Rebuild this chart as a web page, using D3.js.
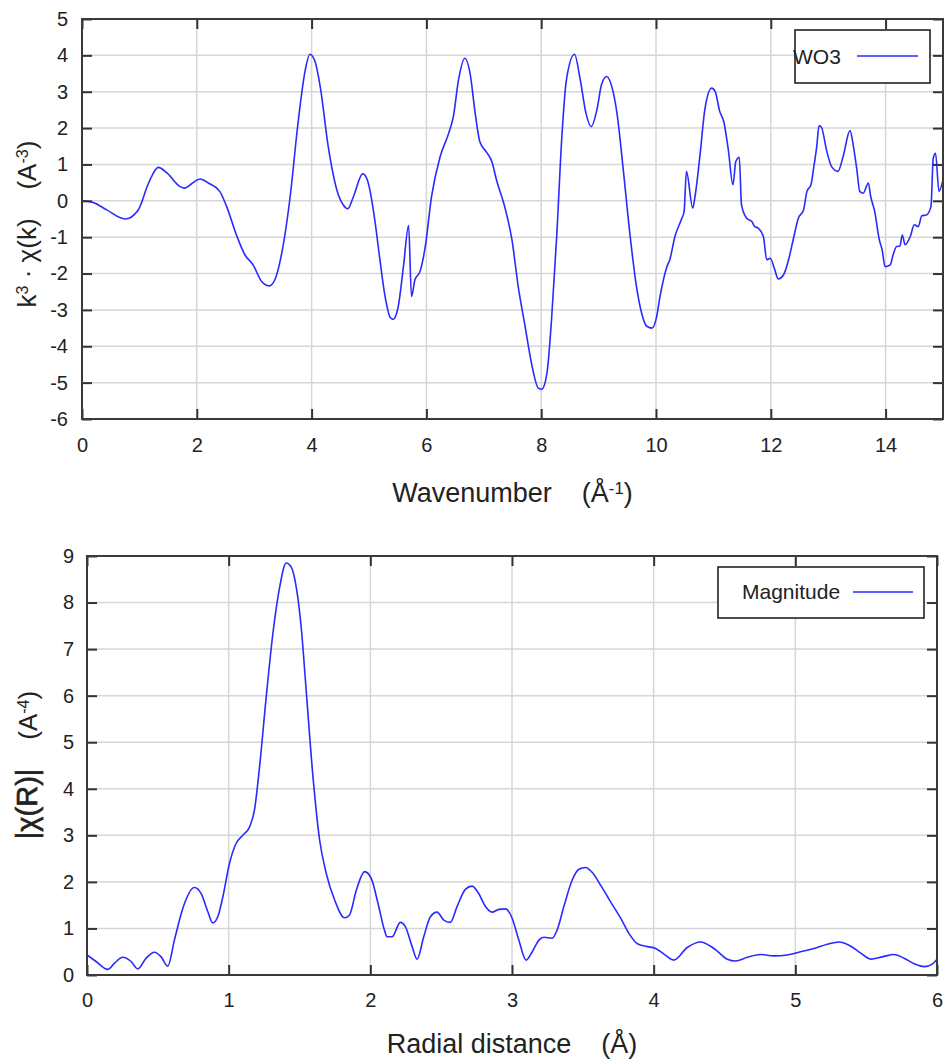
<!DOCTYPE html>
<html>
<head>
<meta charset="utf-8">
<script src="https://cdn.jsdelivr.net/npm/d3@7/dist/d3.min.js"></script>
<style>
  html, body { margin: 0; padding: 0; background: #fff; }
  svg { display: block; font-family: "Liberation Sans", Arial, sans-serif; }
  text { white-space: pre; }
</style>
</head>
<body>
<svg id="chart" width="949" height="1061"></svg>
<script>
// ---------- Data: top panel (k-space) ----------
const kValues = [0, 0.2, 0.43, 0.75, 0.98, 1.16, 1.33, 1.47, 1.71, 1.79, 1.91, 2.06, 2.2, 2.4, 2.52, 2.7, 2.84, 2.98, 3.13, 3.26, 3.36, 3.48, 3.62, 3.77, 3.89, 3.97, 4.06, 4.15, 4.29, 4.44, 4.55, 4.63, 4.73, 4.89, 4.97, 5.02, 5.10, 5.19, 5.28, 5.37, 5.42, 5.51, 5.6, 5.69, 5.74, 5.8, 5.89, 5.98, 6.09, 6.24, 6.38, 6.47, 6.56, 6.67, 6.76, 6.85, 6.93, 7.05, 7.14, 7.22, 7.37, 7.49, 7.6, 7.72, 7.83, 7.95, 8.01, 8.1, 8.18, 8.27, 8.36, 8.44, 8.58, 8.68, 8.78, 8.87, 8.97, 9.05, 9.14, 9.23, 9.32, 9.43, 9.55, 9.66, 9.75, 9.84, 9.93, 10.01, 10.07, 10.19, 10.24, 10.33, 10.44, 10.49, 10.53, 10.64, 10.68, 10.77, 10.85, 10.97, 11.03, 11.11, 11.18, 11.26, 11.34, 11.39, 11.45, 11.49, 11.58, 11.67, 11.72, 11.78, 11.87, 11.93, 11.99, 12.07, 12.13, 12.22, 12.31, 12.39, 12.48, 12.57, 12.63, 12.7, 12.75, 12.8, 12.84, 12.88, 12.97, 13.06, 13.17, 13.26, 13.38, 13.44, 13.5, 13.55, 13.61, 13.7, 13.74, 13.81, 13.89, 13.94, 13.99, 14.08, 14.13, 14.19, 14.25, 14.29, 14.34, 14.43, 14.5, 14.57, 14.63, 14.71, 14.79, 14.83, 14.87, 14.93, 15.0];
const chiValues = [0, -0.05, -0.25, -0.5, -0.25, 0.49, 0.92, 0.78, 0.39, 0.35, 0.47, 0.6, 0.49, 0.26, -0.16, -0.98, -1.49, -1.76, -2.22, -2.34, -2.17, -1.44, 0.03, 2.23, 3.6, 4.03, 3.83, 3.14, 1.49, 0.3, -0.11, -0.22, 0.12, 0.74, 0.58, 0.26, -0.52, -1.62, -2.63, -3.21, -3.26, -2.9, -1.81, -0.68, -2.63, -2.17, -1.94, -1.26, 0.12, 1.22, 1.82, 2.32, 3.33, 3.92, 3.51, 2.41, 1.63, 1.33, 1.08, 0.58, -0.2, -1.07, -2.36, -3.46, -4.46, -5.15, -5.18, -4.74, -3.27, -0.98, 1.77, 3.33, 4.03, 3.33, 2.41, 2.04, 2.5, 3.19, 3.42, 3.14, 2.41, 0.85, -0.98, -2.36, -3.09, -3.45, -3.5, -3.2, -2.63, -1.81, -1.62, -0.98, -0.52, -0.29, 0.81, -0.2, 0.12, 1.31, 2.5, 3.1, 3.01, 2.46, 2.18, 1.4, 0.44, 1.08, 1.2, -0.11, -0.48, -0.57, -0.71, -0.75, -0.98, -1.62, -1.58, -1.9, -2.15, -2.04, -1.62, -1.07, -0.48, -0.25, 0.26, 0.44, 0.94, 1.49, 2.06, 2.03, 1.4, 0.94, 0.81, 1.22, 1.93, 1.49, 0.85, 0.26, 0.21, 0.49, 0.12, -0.29, -1.07, -1.35, -1.81, -1.76, -1.49, -1.26, -1.24, -0.94, -1.21, -0.98, -0.66, -0.71, -0.41, -0.39, -0.16, 1.17, 1.31, 0.26, 0.58];
const kTicks = [0, 2, 4, 6, 8, 10, 12, 14];
const chiTicks = [-6, -5, -4, -3, -2, -1, 0, 1, 2, 3, 4, 5];

// ---------- Data: bottom panel (R-space) ----------
const rValues = [0, 0.064, 0.146, 0.193, 0.252, 0.311, 0.358, 0.417, 0.476, 0.523, 0.57, 0.617, 0.676, 0.758, 0.806, 0.853, 0.888, 0.923, 0.959, 1.006, 1.053, 1.1, 1.147, 1.182, 1.218, 1.265, 1.312, 1.36, 1.406, 1.442, 1.477, 1.512, 1.547, 1.595, 1.642, 1.689, 1.748, 1.818, 1.853, 1.901, 1.96, 2.007, 2.054, 2.101, 2.118, 2.153, 2.212, 2.247, 2.295, 2.33, 2.377, 2.424, 2.471, 2.518, 2.565, 2.612, 2.671, 2.718, 2.765, 2.813, 2.86, 2.907, 2.954, 3.001, 3.048, 3.1, 3.143, 3.19, 3.225, 3.283, 3.319, 3.366, 3.425, 3.472, 3.519, 3.567, 3.625, 3.696, 3.767, 3.826, 3.885, 3.955, 4.014, 4.073, 4.143, 4.237, 4.331, 4.426, 4.52, 4.578, 4.661, 4.755, 4.849, 4.943, 5.037, 5.131, 5.226, 5.308, 5.379, 5.462, 5.532, 5.615, 5.697, 5.768, 5.839, 5.91, 5.969, 6.0];
const magValues = [0.43, 0.29, 0.12, 0.25, 0.38, 0.29, 0.13, 0.36, 0.49, 0.39, 0.19, 0.75, 1.43, 1.88, 1.75, 1.36, 1.12, 1.25, 1.68, 2.4, 2.83, 3.0, 3.18, 3.54, 4.47, 5.97, 7.33, 8.33, 8.85, 8.76, 8.33, 7.47, 6.12, 4.26, 2.9, 2.18, 1.61, 1.23, 1.29, 1.82, 2.22, 2.07, 1.54, 0.95, 0.82, 0.82, 1.13, 1.04, 0.61, 0.34, 0.82, 1.25, 1.35, 1.18, 1.13, 1.47, 1.84, 1.91, 1.75, 1.47, 1.35, 1.41, 1.42, 1.22, 0.75, 0.32, 0.5, 0.75, 0.81, 0.79, 0.97, 1.47, 2.04, 2.27, 2.31, 2.2, 1.93, 1.57, 1.22, 0.89, 0.67, 0.61, 0.57, 0.45, 0.32, 0.59, 0.71, 0.57, 0.34, 0.3, 0.38, 0.44, 0.41, 0.43, 0.5, 0.57, 0.66, 0.71, 0.64, 0.47, 0.34, 0.39, 0.44, 0.36, 0.24, 0.18, 0.24, 0.34];
const rTicks = [0, 1, 2, 3, 4, 5, 6];
const magTicks = [0, 1, 2, 3, 4, 5, 6, 7, 8, 9];

const svg = d3.select("#chart");

function drawPanel(cfg) {
  const { left, right, top, bottom } = cfg;
  const x = d3.scaleLinear().domain(cfg.xDomain).range([left, right]);
  const y = d3.scaleLinear().domain(cfg.yDomain).range([bottom, top]);
  const g = svg.append("g");

  // grid
  g.append("g").selectAll("line").data(cfg.xTicks.filter(t => t > cfg.xDomain[0] && t < cfg.xDomain[1]))
    .join("line")
    .attr("x1", d => x(d)).attr("x2", d => x(d))
    .attr("y1", top).attr("y2", bottom)
    .attr("stroke", "#d6d6d6").attr("stroke-width", 1.5);
  g.append("g").selectAll("line").data(cfg.yTicks.filter(t => t > cfg.yDomain[0] && t < cfg.yDomain[1]))
    .join("line")
    .attr("x1", left).attr("x2", right)
    .attr("y1", d => y(d)).attr("y2", d => y(d))
    .attr("stroke", "#d6d6d6").attr("stroke-width", 1.5);

  // curve
  const clipId = "clip" + cfg.id;
  svg.append("clipPath").attr("id", clipId).append("rect")
    .attr("x", left).attr("y", top).attr("width", right - left).attr("height", bottom - top);
  const pts = cfg.xs.map((v, i) => [v, cfg.ys[i]]);
  g.append("path")
    .attr("clip-path", `url(#${clipId})`)
    .attr("d", d3.line().x(d => x(d[0])).y(d => y(d[1])).curve(d3.curveMonotoneX)(pts))
    .attr("fill", "none").attr("stroke", "#2a2aff").attr("stroke-width", 1.6);

  // axes (inward ticks on all four sides)
  const tickColor = "#333";
  const fmt = d => String(d);
  const ax = [
    g.append("g").attr("transform", `translate(0,${bottom})`)
      .call(d3.axisBottom(x).tickValues(cfg.xTicks).tickSize(-10).tickPadding(cfg.xPad).tickFormat(fmt)),
    g.append("g").attr("transform", `translate(${left},0)`)
      .call(d3.axisLeft(y).tickValues(cfg.yTicks).tickSize(-10).tickPadding(cfg.yPad).tickFormat(fmt)),
    g.append("g").attr("transform", `translate(0,${top})`)
      .call(d3.axisTop(x).tickValues(cfg.xTicks).tickSize(-10).tickFormat("")),
    g.append("g").attr("transform", `translate(${right},0)`)
      .call(d3.axisRight(y).tickValues(cfg.yTicks).tickSize(-10).tickFormat(""))
  ];
  ax.forEach(a => {
    a.select(".domain").remove();
    a.selectAll(".tick line").attr("stroke", tickColor).attr("stroke-width", 2);
    a.selectAll(".tick text").attr("fill", "#222").style("font-size", "20px")
      .style("font-family", '"Liberation Sans", Arial, sans-serif');
  });

  // frame
  g.append("rect").attr("x", left).attr("y", top)
    .attr("width", right - left).attr("height", bottom - top)
    .attr("fill", "none").attr("stroke", "#3a3a3a").attr("stroke-width", 2);

  // legend
  const L = cfg.legend;
  g.append("rect").attr("x", L.x).attr("y", L.y).attr("width", L.w).attr("height", L.h)
    .attr("fill", "#fff").attr("stroke", "#222").attr("stroke-width", 1.6);
  g.append("text").attr("x", L.tx).attr("y", L.ty).attr("fill", "#222")
    .style("font-size", "21px").text(L.label);
  g.append("line").attr("x1", L.lx1).attr("x2", L.lx2).attr("y1", L.ly).attr("y2", L.ly)
    .attr("stroke", "#2a2aff").attr("stroke-width", 1.6);

  // x axis title
  const xt = g.append("text").attr("x", (left + right) / 2).attr("y", cfg.xTitleY)
    .attr("text-anchor", "middle").attr("fill", "#222").style("font-size", "27px");
  cfg.xTitle(xt);

  // y axis title
  const yt = g.append("text")
    .attr("transform", `translate(${cfg.yTitleX},${cfg.yTitleCY}) rotate(-90)`)
    .attr("text-anchor", "middle").attr("fill", "#222").style("font-size", "26px");
  cfg.yTitle(yt);
}

function sup(t, s) {
  t.append("tspan").attr("dy", "-0.5em").style("font-size", "0.62em").text(s);
}

drawPanel({
  id: "top", left: 82, right: 943, top: 19, bottom: 419,
  xDomain: [0, 15], yDomain: [-6, 5], xTicks: kTicks, yTicks: chiTicks,
  xs: kValues, ys: chiValues, xPad: 19, yPad: 14,
  legend: { x: 795, y: 30, w: 135, h: 53, tx: 793, ty: 64, label: "WO3", lx1: 857, lx2: 918, ly: 56 },
  xTitleY: 502,
  xTitle: t => {
    t.append("tspan").text("Wavenumber    (Å");
    sup(t, "-1");
    t.append("tspan").attr("dy", "0.31em").text(")");
  },
  yTitleX: 36, yTitleCY: 224,
  yTitle: t => {
    t.append("tspan").text("k");
    sup(t, "3");
    t.append("tspan").attr("dy", "0.31em").text(" · χ(k)    (A");
    sup(t, "-3");
    t.append("tspan").attr("dy", "0.31em").text(")");
  }
});

drawPanel({
  id: "bot", left: 87, right: 937, top: 556, bottom: 975,
  xDomain: [0, 6], yDomain: [0, 9], xTicks: rTicks, yTicks: magTicks,
  xs: rValues, ys: magValues, xPad: 18, yPad: 13,
  legend: { x: 718, y: 567, w: 206, h: 51, tx: 742, ty: 599, label: "Magnitude", lx1: 853, lx2: 913, ly: 592 },
  xTitleY: 1053,
  xTitle: t => {
    t.append("tspan").text("Radial distance    (Å)");
  },
  yTitleX: 37, yTitleCY: 765,
  yTitle: t => {
    t.append("tspan").style("font-size", "29px").style("stroke", "#222").style("stroke-width", "0.6px").text("|χ(R)|");
    t.append("tspan").text("    (A");
    sup(t, "-4");
    t.append("tspan").attr("dy", "0.31em").text(")");
  }
});
</script>
</body>
</html>
